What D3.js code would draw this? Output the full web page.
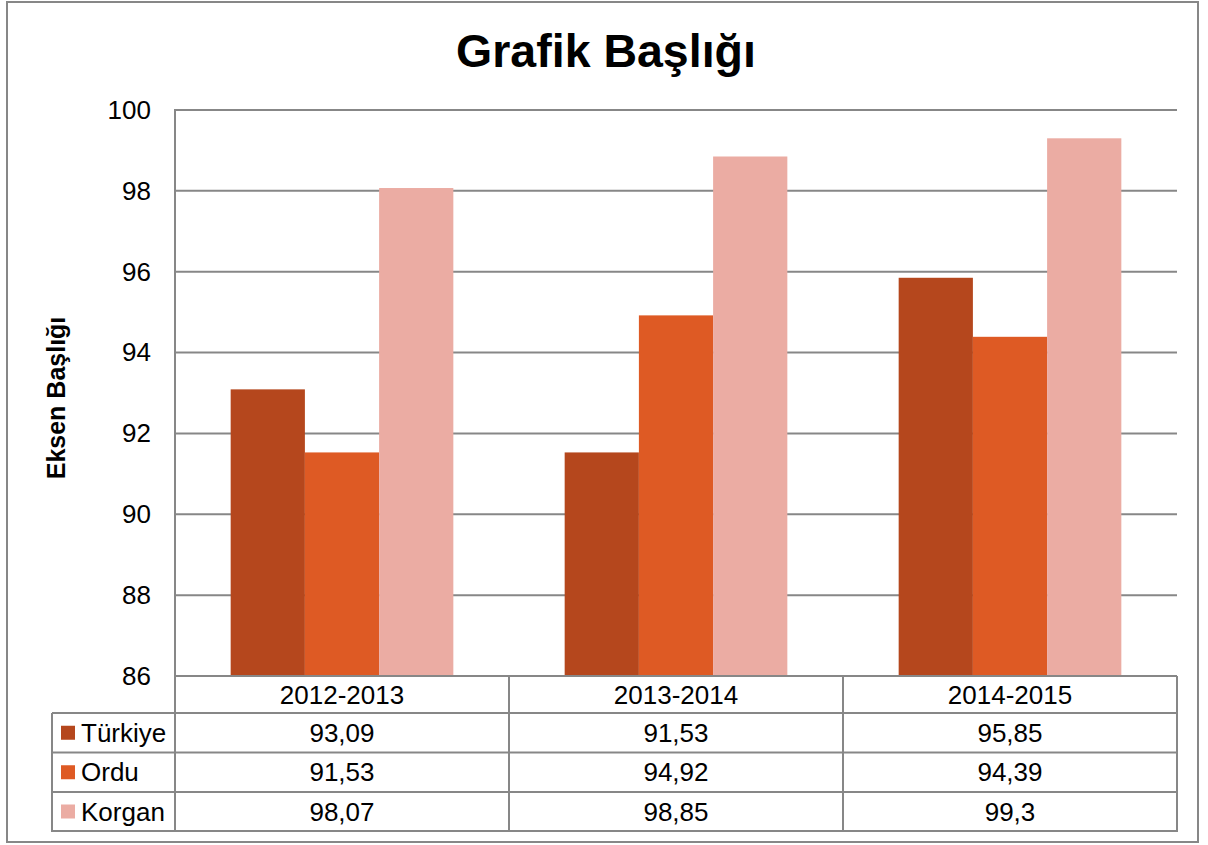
<!DOCTYPE html>
<html>
<head>
<meta charset="utf-8">
<script src="https://cdn.jsdelivr.net/npm/d3@7"></script>
<style>
  html, body { margin: 0; padding: 0; background: #fff; }
  svg { display: block; font-family: "Liberation Sans", Arial, sans-serif; }
</style>
</head>
<body>
<svg id="chart" width="1208" height="845"></svg>
<script>
const categories = ["2012-2013", "2013-2014", "2014-2015"];
const seriesNames = ["Türkiye", "Ordu", "Korgan"];
const seriesColors = ["#B5471D", "#DE5A24", "#EBACA3"];
const turkiye = [93.09, 91.53, 95.85];
const ordu = [91.53, 94.92, 94.39];
const korgan = [98.07, 98.85, 99.3];
const seriesValues = [turkiye, ordu, korgan];
const yTicks = [86, 88, 90, 92, 94, 96, 98, 100];
const chartTitle = "Grafik Başlığı";
const yTitle = "Eksen Başlığı";

const svg = d3.select("#chart");
const grid = "#878787";
const plotL = 175, plotR = 1177, plotT = 110, plotB = 676;
const legendL = 52;
const rowEdges = [676, 713, 752.5, 792, 831];

// outer border
svg.append("rect").attr("x", 7).attr("y", 2).attr("width", 1191).attr("height", 840)
  .attr("fill", "#fff").attr("stroke", grid).attr("stroke-width", 2);

const y = d3.scaleLinear().domain([86, 100]).range([plotB, plotT]);
const x0 = d3.scaleBand().domain(categories).range([plotL, plotR]).padding(0);
const x1 = d3.scaleBand().domain(seriesNames).range([0, x0.bandwidth()])
  .paddingInner(0).paddingOuter(0.75);

// gridlines
svg.append("g").selectAll("line").data(yTicks.filter(t => t !== 86)).join("line")
  .attr("x1", plotL).attr("x2", plotR)
  .attr("y1", d => y(d)).attr("y2", d => y(d))
  .attr("stroke", grid).attr("stroke-width", 2);

// y axis labels
const yAxis = d3.axisLeft(y).tickValues(yTicks).tickSize(0).tickPadding(24).tickFormat(d3.format("d"));
const yg = svg.append("g").attr("transform", `translate(${plotL},0)`).call(yAxis);
yg.select(".domain").remove();
yg.selectAll("text").attr("font-size", 26).attr("fill", "#000")
  .attr("font-family", '"Liberation Sans", Arial, sans-serif');

// bars
const groups = svg.append("g").selectAll("g").data(categories).join("g")
  .attr("transform", d => `translate(${x0(d)},0)`);
groups.selectAll("rect").data((c, ci) => seriesNames.map((s, si) => ({s, si, v: seriesValues[si][ci]})))
  .join("rect")
  .attr("x", d => x1(d.s)).attr("width", x1.bandwidth())
  .attr("y", d => y(d.v)).attr("height", d => y(86) - y(d.v))
  .attr("fill", d => seriesColors[d.si]);

// table lines
const tl = svg.append("g").attr("stroke", grid).attr("stroke-width", 2);
tl.append("line").attr("x1", plotL).attr("x2", plotL).attr("y1", plotT - 1).attr("y2", rowEdges[4]);
tl.append("line").attr("x1", plotL - 1).attr("x2", plotR).attr("y1", plotB).attr("y2", plotB);
rowEdges.slice(1).forEach(r => {
  tl.append("line").attr("x1", legendL).attr("x2", plotR + 1).attr("y1", r).attr("y2", r);
});
tl.append("line").attr("x1", legendL).attr("x2", legendL).attr("y1", rowEdges[1]).attr("y2", rowEdges[4] + 1);
categories.forEach((c, i) => {
  const xr = x0(c) + x0.bandwidth();
  tl.append("line").attr("x1", xr).attr("x2", xr).attr("y1", plotB).attr("y2", rowEdges[4] + 1);
});

// header labels
svg.append("g").selectAll("text").data(categories).join("text")
  .attr("x", d => x0(d) + x0.bandwidth() / 2).attr("y", 704)
  .attr("text-anchor", "middle").attr("font-size", 26).attr("fill", "#000")
  .text(d => d);

// rows
const fmt = v => String(v).replace(".", ",");
seriesNames.forEach((s, si) => {
  const top = rowEdges[si + 1];
  const bot = rowEdges[si + 2];
  const mid = (top + bot) / 2;
  svg.append("rect").attr("x", 61).attr("y", mid - 7).attr("width", 14).attr("height", 14)
    .attr("fill", seriesColors[si]);
  svg.append("text").attr("x", 81).attr("y", mid + 9).attr("font-size", 26).attr("fill", "#000").text(s);
  svg.append("g").selectAll("text").data(categories).join("text")
    .attr("x", d => x0(d) + x0.bandwidth() / 2).attr("y", mid + 9)
    .attr("text-anchor", "middle").attr("font-size", 26).attr("fill", "#000")
    .text((d, ci) => fmt(seriesValues[si][ci]));
});

// titles
svg.append("text").attr("x", 606).attr("y", 67).attr("text-anchor", "middle")
  .attr("font-size", 46.5).attr("font-weight", "bold").attr("fill", "#000").text(chartTitle);
svg.append("text").attr("transform", "translate(65,398) rotate(-90)").attr("text-anchor", "middle")
  .attr("font-size", 25).attr("font-weight", "bold").attr("fill", "#000").text(yTitle);
</script>
</body>
</html>
